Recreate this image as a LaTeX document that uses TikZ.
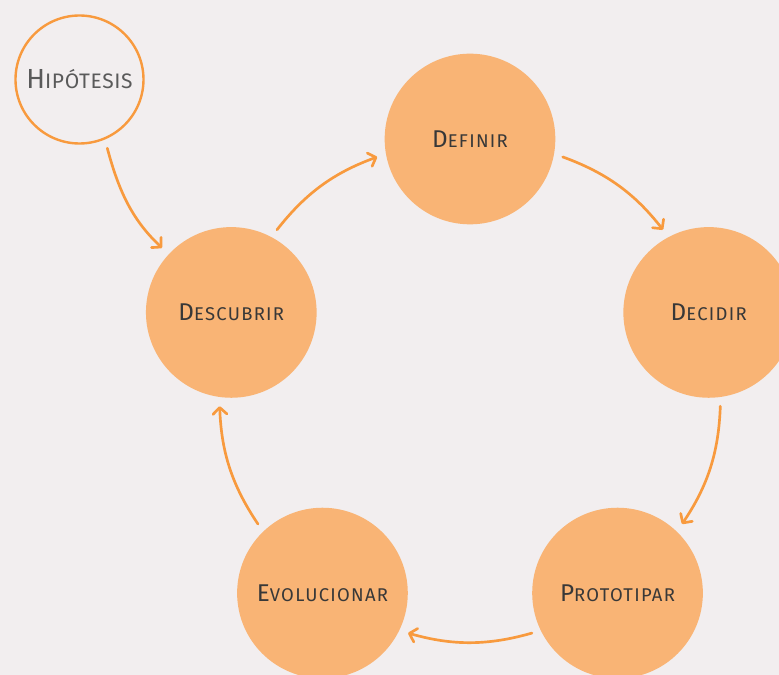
\documentclass[tikz,border=0pt]{standalone}
\usepackage{graphicx}
\usepackage{fontspec}
\setmainfont{Fira Sans}
\newfontfamily\phasefont{Fira Sans}[LetterSpace=7]
\newfontfamily\hypofont{Fira Sans}[LetterSpace=3]
\usepackage{tikz}
\usetikzlibrary{arrows.meta}
\definecolor{bgpaper}{HTML}{F2EEEF}
\definecolor{stepfill}{HTML}{F9B475}
\definecolor{flowline}{HTML}{F89A3E}
\definecolor{labeltext}{HTML}{383838}
\definecolor{hyptext}{HTML}{5A5A5A}
% first letter full size, rest as small capitals
\newcommand{\capsword}[2]{#1\scalebox{0.76}{#2}}
\tikzset{
  phase/.style={circle, fill=stepfill, minimum size=128pt, inner sep=0pt,
                text=labeltext, font=\phasefont\fontsize{18.2}{19}\selectfont},
  hypo/.style={circle, draw=flowline, line width=1.8pt, fill=bgpaper,
               minimum size=96pt, inner sep=0pt, text=hyptext,
               font=\hypofont\fontsize{20.7}{21}\selectfont},
  flow/.style={-{Straight Barb[length=5pt, width=10.5pt, round]},
               line width=2pt, draw=flowline, line cap=round,
               shorten <=6.75pt, shorten >=6.75pt},
}

\begin{document}
\begin{tikzpicture}[x=0.75pt, y=0.75pt]
  % Background
  \fill[bgpaper] (-470,-285) rectangle (309,390);
  \useasboundingbox (-470,-285) rectangle (309,390);

  % Cycle
  \node[phase] (def) at (90:251)   {\capsword{D}{EFINIR}};
  \node[phase] (dec) at (18:251)   {\capsword{D}{ECIDIR}};
  \node[phase] (pro) at (-54:251)  {\capsword{P}{ROTOTIPAR}};
  \node[phase] (evo) at (-126:251) {\capsword{E}{VOLUCIONAR}};
  \node[phase] (des) at (162:251)  {\capsword{D}{ESCUBRIR}};

  % Hypothesis
  \node[hypo] (hyp) at (-390.5,310.5) {\capsword{H}{IPÓTESIS}};

  % Arrows
  \draw[flow] (hyp.-67) to[out=-75, in=137] (des.137);
  \draw[flow] (def.-10) to[bend left=16] (dec.118);
  \draw[flow] (dec.-82) to[bend left=16] (pro.46);
  \draw[flow] (pro.-154) to[bend left=16] (evo.-26);
  \draw[flow] (evo.134) to[bend left=16] (des.-98);
  \draw[flow] (des.62) to[bend left=16] (def.190);
\end{tikzpicture}
\end{document}
